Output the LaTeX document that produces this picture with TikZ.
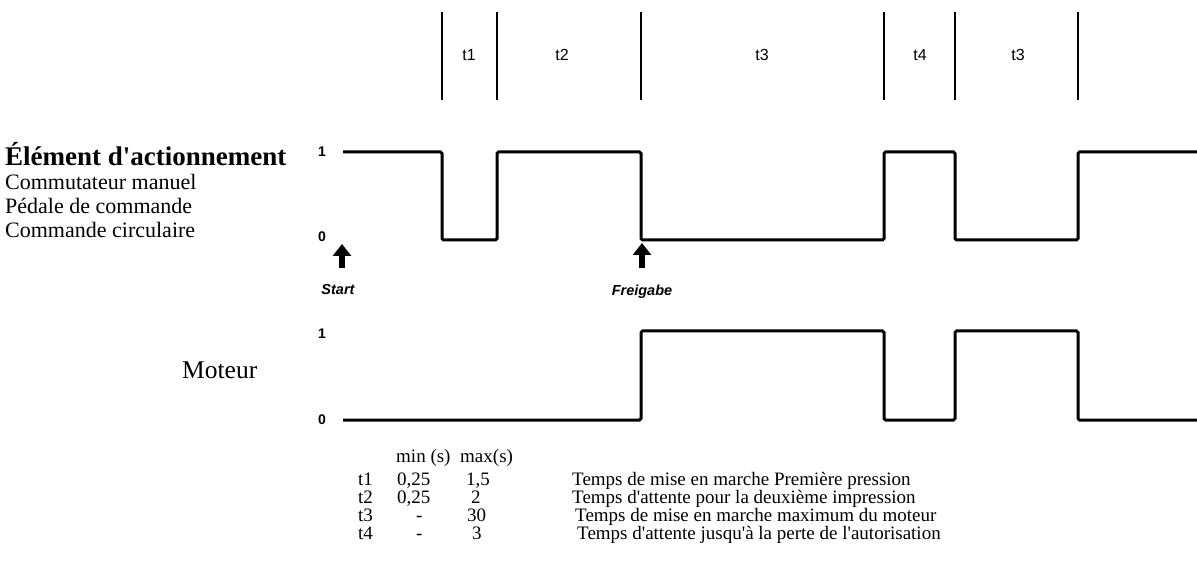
\documentclass[tikz,border=0pt]{standalone}
\usepackage{fontspec}
\setmainfont{Liberation Serif}
\setsansfont{Liberation Sans}
\usetikzlibrary{arrows.meta}
\begin{document}
\begin{tikzpicture}[x=1pt,y=-1pt,
	sig/.style={line width=3pt, rounded corners=1.5pt},
	bar/.style={line width=2.6pt},
	lvl/.style={font=\sffamily\bfseries\fontsize{14}{16}\selectfont, anchor=base, inner sep=0pt},
	tlbl/.style={font=\sffamily\fontsize{16}{18}\selectfont, anchor=base, inner sep=0pt},
	evt/.style={font=\sffamily\bfseries\itshape\fontsize{14.5}{17}\selectfont, anchor=base, inner sep=0pt},
	big/.style={line width=6pt, -{Triangle[width=18pt,length=12pt]}},
	txt/.style={anchor=base west, inner sep=0pt, font=\fontsize{22}{25}\selectfont},
	tab/.style={anchor=base west, inner sep=0pt, font=\fontsize{19}{21}\selectfont}]
	\useasboundingbox (0,0) rectangle (1197,561);
	
	% time slots
	\foreach \x in {442,497,641,884,955,1078}
		\draw [bar] (\x,12) -- (\x,100);
	\node [tlbl] (slot1) at (469,61) {t1};
	\node [tlbl] (slot2) at (562,61) {t2};
	\node [tlbl] (slot3) at (762,61) {t3};
	\node [tlbl] (slot4) at (920,61) {t4};
	\node [tlbl] (slot5) at (1018,61) {t3};
	
	% actuator
	\node [txt, font=\bfseries\fontsize{27}{30}\selectfont] (act) at (5,166) {Élément d\textquotesingle actionnement};
	\node [txt] (act1) at (5,190) {Commutateur manuel};
	\node [txt] (act2) at (5,214) {Pédale de commande};
	\node [txt] (act3) at (5,238) {Commande circulaire};
	\node [lvl] (acthi) at (322,157) {1};
	\node [lvl] (actlo) at (322,242) {0};
	\draw [sig] (343,152) -- (442,152) -- (442,240) -- (497,240) -- (497,152) -- (641,152) -- (641,240) -- (884,240) -- (884,152) -- (955,152) -- (955,240) -- (1078,240) -- (1078,152) -- (1197,152);
	
	% events
	\node [evt] (start) at (338,295) {Start};
	\node [evt] (release) at (642,296) {Freigabe};
	\coordinate (starttip) at (342,244);
	\coordinate (releasetip) at (642,243);
	\draw [big] (342,268) -- (starttip);
	\draw [big] (642,268) -- (releasetip);
	
	% motor
	\node [txt, font=\fontsize{25.5}{28}\selectfont] (motor) at (182,378) {Moteur};
	\node [lvl] (mothi) at (322,339) {1};
	\node [lvl] (motlo) at (322,424) {0};
	\draw [sig] (343,420) -- (641,420) -- (641,331) -- (884,331) -- (884,420) -- (955,420) -- (955,331) -- (1078,331) -- (1078,420) -- (1197,420);
	
	% times
	\node [tab] (hmin) at (396,462) {min (s)};
	\node [tab] (hmax) at (460,462) {max(s)};
	\node [tab] (r1) at (358,485) {t1};
	\node [tab] (r2) at (358,503) {t2};
	\node [tab] (r3) at (358,521) {t3};
	\node [tab] (r4) at (358,539) {t4};
	\node [tab] (min1) at (397,485) {0,25};
	\node [tab] (min2) at (397,503) {0,25};
	\node [tab] (min3) at (416,521) {-};
	\node [tab] (min4) at (416,539) {-};
	\node [tab] (max1) at (466,485) {1,5};
	\node [tab] (max2) at (471,503) {2};
	\node [tab] (max3) at (467,521) {30};
	\node [tab] (max4) at (472,539) {3};
	\node [tab] (d1) at (572,485) {Temps de mise en marche Première pression};
	\node [tab] (d2) at (572,503) {Temps d\textquotesingle attente pour la deuxième impression};
	\node [tab] (d3) at (575,521) {Temps de mise en marche maximum du moteur};
	\node [tab] (d4) at (577,539) {Temps d\textquotesingle attente jusqu\textquotesingle à la perte de l\textquotesingle autorisation};
\end{tikzpicture}
\end{document}
